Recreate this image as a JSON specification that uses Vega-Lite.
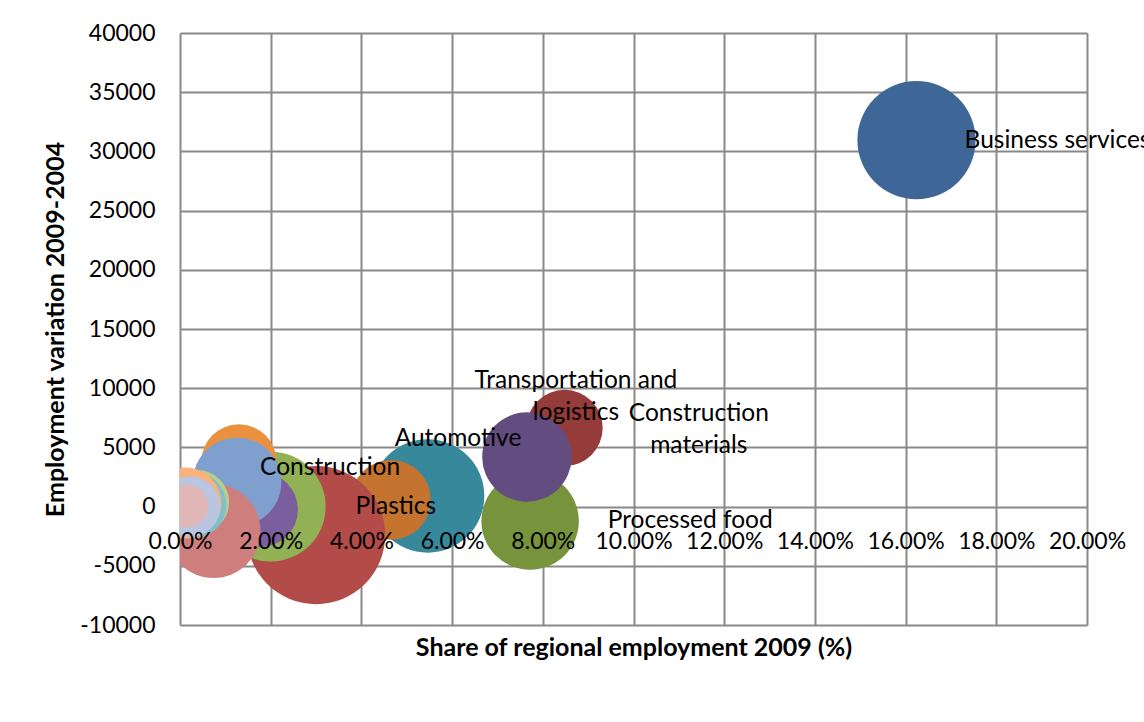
{
  "$schema": "https://vega.github.io/schema/vega-lite/v6.json",
  "width": 907,
  "height": 592,
  "autosize": {"type": "none"},
  "padding": {"left": 180, "top": 33, "right": 57, "bottom": 97},
  "background": "white",
  "config": {"view": {"stroke": null}, "font": "Lato"},
  "datasets": {
    "bubbles": [
      {"sector": "Business services", "share": 0.1624, "variation": 30950, "bubble": 73.1},
      {"sector": "Transportation and logistics", "share": 0.0848, "variation": 6640, "bubble": 30.4},
      {"sector": "Processed food", "share": 0.0772, "variation": -1220, "bubble": 49.7},
      {"sector": "Construction materials", "share": 0.0765, "variation": 4190, "bubble": 41.9},
      {"sector": "Automotive", "share": 0.0546, "variation": 900, "bubble": 67.3},
      {"sector": "Plastics", "share": 0.0465, "variation": 560, "bubble": 33.3},
      {"sector": "Construction", "share": 0.030, "variation": -2400, "bubble": 100},
      {"sector": "Sector 8", "share": 0.0200, "variation": 0, "bubble": 63.2},
      {"sector": "Sector 9", "share": 0.0178, "variation": -260, "bubble": 29.0},
      {"sector": "Sector 10", "share": 0.0130, "variation": 3770, "bubble": 29.7},
      {"sector": "Sector 11", "share": 0.0126, "variation": 2080, "bubble": 41.1},
      {"sector": "Sector 12", "share": 0.0074, "variation": -2060, "bubble": 46.2},
      {"sector": "Sector 13", "share": 0.0038, "variation": 390, "bubble": 21.3},
      {"sector": "Sector 14", "share": 0.0030, "variation": 130, "bubble": 22.5},
      {"sector": "Sector 15", "share": 0.0013, "variation": 300, "bubble": 26.3},
      {"sector": "Sector 16", "share": 0.0022, "variation": 0, "bubble": 19.0},
      {"sector": "Sector 17", "share": 0.0015, "variation": 50, "bubble": 9.5}
    ],
    "labels": [
      {"label": "Business services", "label_share": 0.1935, "label_variation": 30900},
      {"label": "Transportation and\nlogistics", "label_share": 0.0873, "label_variation": 10600},
      {"label": "Construction\nmaterials", "label_share": 0.1144, "label_variation": 7820},
      {"label": "Automotive", "label_share": 0.0613, "label_variation": 5710},
      {"label": "Construction", "label_share": 0.0331, "label_variation": 3260},
      {"label": "Plastics", "label_share": 0.0476, "label_variation": 0},
      {"label": "Processed food", "label_share": 0.1125, "label_variation": -1220}
    ]
  },
  "layer": [
    {
      "data": {"name": "bubbles"},
      "mark": {"type": "circle", "opacity": 1, "clip": true},
      "encoding": {
        "x": {
          "field": "share", "type": "quantitative",
          "scale": {"domain": [0, 0.2], "nice": false, "zero": false},
          "axis": {
            "orient": "bottom",
            "values": [0, 0.02, 0.04, 0.06, 0.08, 0.1, 0.12, 0.14, 0.16, 0.18, 0.2],
            "grid": true, "gridColor": "#898989", "gridWidth": 2, "gridOpacity": 1,
            "labels": false, "ticks": false, "tickSize": 0, "domain": false,
            "title": null, "zindex": 0
          }
        },
        "y": {
          "field": "variation", "type": "quantitative",
          "scale": {"domain": [-10000, 40000], "nice": false, "zero": false},
          "axis": {
            "orient": "left",
            "values": [-10000, -5000, 0, 5000, 10000, 15000, 20000, 25000, 30000, 35000, 40000],
            "grid": true, "gridColor": "#898989", "gridWidth": 2, "gridOpacity": 1,
            "ticks": false, "tickSize": 0, "domain": false,
            "labelExpr": "'' + datum.value",
            "labelFont": "Lato", "labelFontSize": 23, "labelColor": "#000000",
            "labelPadding": 25, "labelOverlap": false, "labelFlush": false,
            "title": "Employment variation 2009-2004",
            "titleFont": "Lato", "titleFontWeight": "bold", "titleFontSize": 25,
            "titleColor": "#000000", "titleX": -117, "titleY": 296,
            "titleAngle": 270, "titleBaseline": "alphabetic", "titleAlign": "center",
            "zindex": 0
          }
        },
        "size": {
          "field": "bubble", "type": "quantitative",
          "scale": {"type": "linear", "domain": [0, 100], "range": [0, 19113]},
          "legend": null
        },
        "color": {
          "field": "sector", "type": "nominal",
          "scale": {
            "domain": ["Business services", "Transportation and logistics", "Processed food", "Construction materials", "Automotive", "Plastics", "Construction", "Sector 8", "Sector 9", "Sector 10", "Sector 11", "Sector 12", "Sector 13", "Sector 14", "Sector 15", "Sector 16", "Sector 17"],
            "range": ["#3E6797", "#953B39", "#77933C", "#634C80", "#37889B", "#C4742F", "#B34B48", "#92B155", "#7A5E9D", "#E9913F", "#7F9FCE", "#CE7F7D", "#B6CF8B", "#7FBFCE", "#F9B27C", "#B9C5E1", "#E0B7B6"]
          },
          "legend": null
        }
      }
    },
    {
      "data": {"name": "labels"},
      "mark": {"type": "text", "font": "Lato", "fontSize": 24.5, "color": "#000000", "align": "center", "baseline": "middle", "lineBreak": "\n", "lineHeight": 32},
      "encoding": {
        "x": {
          "field": "label_share", "type": "quantitative",
          "axis": {
            "orient": "bottom", "offset": -118.4,
            "values": [0, 0.02, 0.04, 0.06, 0.08, 0.1, 0.12, 0.14, 0.16, 0.18, 0.2],
            "format": ".2%",
            "grid": false, "ticks": false, "tickSize": 0, "domain": false,
            "labelFont": "Lato", "labelFontSize": 23, "labelColor": "#000000",
            "labelPadding": 24, "labelBaseline": "top", "labelFlush": false, "labelOverlap": false,
            "title": "Share of regional employment 2009 (%)",
            "titleFont": "Lato", "titleFontWeight": "bold", "titleFontSize": 25,
            "titleColor": "#000000", "titleX": 453.5, "titleY": 148.4,
            "titleBaseline": "alphabetic", "titleAlign": "center",
            "zindex": 1
          }
        },
        "y": {"field": "label_variation", "type": "quantitative", "axis": null},
        "text": {"field": "label"}
      }
    }
  ],
  "resolve": {"axis": {"x": "independent", "y": "independent"}}
}
